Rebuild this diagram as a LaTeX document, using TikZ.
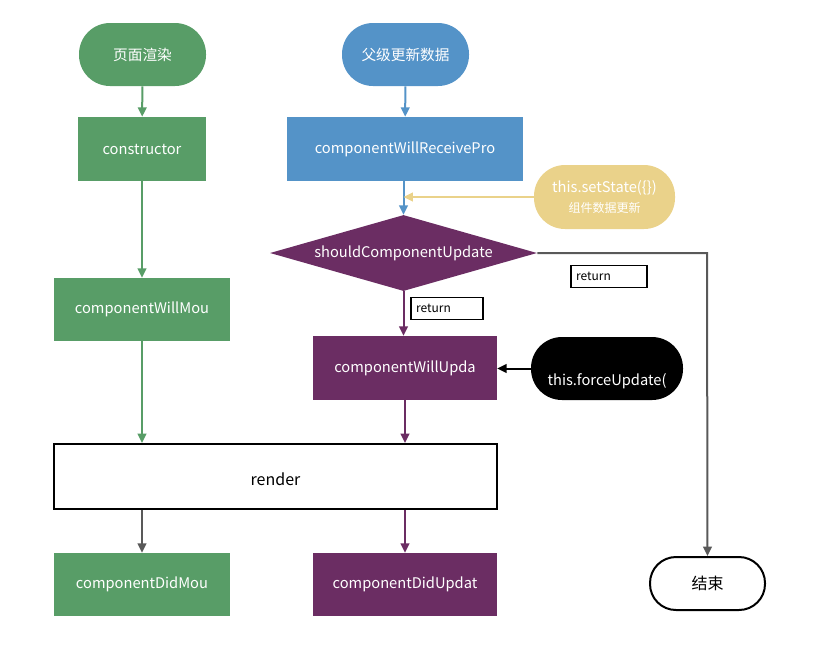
\documentclass[tikz,border=0pt]{standalone}
\usepackage{fontspec}
\setmainfont{Noto Sans CJK SC}
\usetikzlibrary{arrows.meta,shapes.geometric}
\definecolor{cgreen}{RGB}{88,157,103}
\definecolor{cblue}{RGB}{84,147,200}
\definecolor{cpurple}{RGB}{107,45,99}
\definecolor{cyellow}{RGB}{234,210,138}
\definecolor{cgray}{RGB}{89,89,89}
\tikzset{
  box/.style={rectangle, minimum width=#1*0.75pt, minimum height=64*0.75pt, inner sep=0pt, text=white, font=\fontsize{11}{13}\selectfont},
  pill/.style={rectangle, rounded corners=31*0.75pt, minimum height=63*0.75pt, inner sep=0pt, text=white, font=\fontsize{11}{13}\selectfont},
  tag/.style={draw=black, line width=0.8pt, fill=white, minimum width=#1*0.75pt, minimum height=22*0.75pt, inner sep=0pt},
  tagtext/.style={font=\fontsize{9}{11}\selectfont, anchor=west, inner sep=0pt, text=black},
  flow/.style={line width=1.5pt, -{Triangle[length=7pt,width=6.5pt]}},
}
\begin{document}
\begin{tikzpicture}[x=0.75pt, y=-0.75pt]
\useasboundingbox (0,0) rectangle (816,644);

% left column
\node[pill, fill=cgreen, minimum width=127*0.75pt] (start) at (142.5,54.5) {页面渲染};
\node[box=128, fill=cgreen] (ctor) at (142,149) {constructor};
\node[box=176, fill=cgreen, minimum height=63*0.75pt] (willmount) at (142,309.5) {componentWillMou};
\node[box=176, fill=cgreen, minimum height=63*0.75pt] (didmount) at (142,584.5) {componentDidMou};

% middle column
\node[pill, fill=cblue, minimum width=127*0.75pt] (parent) at (405.5,54.5) {父级更新数据};
\node[box=236, fill=cblue] (receive) at (405,149) {componentWillReceivePro};
\node[diamond, aspect=3.5, fill=cpurple, text=white, inner sep=0pt, minimum width=267*0.75pt, minimum height=76*0.75pt, font=\fontsize{11}{13}\selectfont] (should) at (403.5,253) {shouldComponentUpdate};
\node[box=184, fill=cpurple] (willupdate) at (405,368) {componentWillUpda};
\node[box=184, fill=cpurple, minimum height=63*0.75pt] (didupdate) at (405,584.5) {componentDidUpdat};

% render
\node[draw=black, line width=1.5pt, fill=white, minimum width=443*0.75pt, minimum height=65*0.75pt, inner sep=0pt] (render) at (275.5,476.5) {};
\node[font=\fontsize{12}{14}\selectfont, inner sep=0pt] (rendertext) at (275.5,479) {render};

% side nodes
\node[pill, fill=cyellow, minimum width=141*0.75pt, minimum height=64*0.75pt, align=center] (setstate) at (604.5,197) {{\fontsize{11}{13}\selectfont this.setState(\{\})}\\[2pt]{\fontsize{9}{11}\selectfont 组件数据更新}};
\node[pill, fill=black, minimum width=152*0.75pt] (force) at (607,368.5) {};
\node[text=white, font=\fontsize{11}{13}\selectfont, inner sep=0pt] (forcetext) at (607,381) {this.forceUpdate(};
\node[pill, draw=black, fill=white, line width=1.5pt, text=black, minimum width=115*0.75pt, minimum height=53*0.75pt, rounded corners=26*0.75pt, font=\fontsize{12}{14}\selectfont] (end) at (707.5,583.5) {结束};

% connectors
\coordinate (k1) at (707,253);
\draw[flow, cgreen] (start) -- (ctor);
\draw[flow, cgreen] (ctor) -- (willmount);
\draw[flow, cgreen] (willmount.south) -- (willmount.south |- render.north);
\draw[flow, cblue] (parent) -- (receive);
\draw[flow, cblue] (receive.south -| should.north) -- (should.north);
\draw[flow, cyellow] (setstate.west) -- (setstate.west -| should.north);
\draw[flow, cpurple] (should.south) -- (should.south |- willupdate.north);
\draw[flow, black] (force.west) -- (willupdate.east |- force.west);
\draw[flow, cpurple] (willupdate.south) -- (willupdate.south |- render.north);
\draw[flow, cgray] (render.south -| didmount.north) -- (didmount.north);
\draw[flow, cpurple] (render.south -| didupdate.north) -- (didupdate.north);
\draw[flow, cgray] (should.east) -- (k1) -- (end.north);

% branch labels
\node[tag=76] (ret1) at (609,276.5) {};
\node[tagtext] (ret1t) at ([xshift=4pt]ret1.west) {return};
\node[tag=72] (ret2) at (447,308.5) {};
\node[tagtext] (ret2t) at ([xshift=4pt]ret2.west) {return};
\end{tikzpicture}
\end{document}
